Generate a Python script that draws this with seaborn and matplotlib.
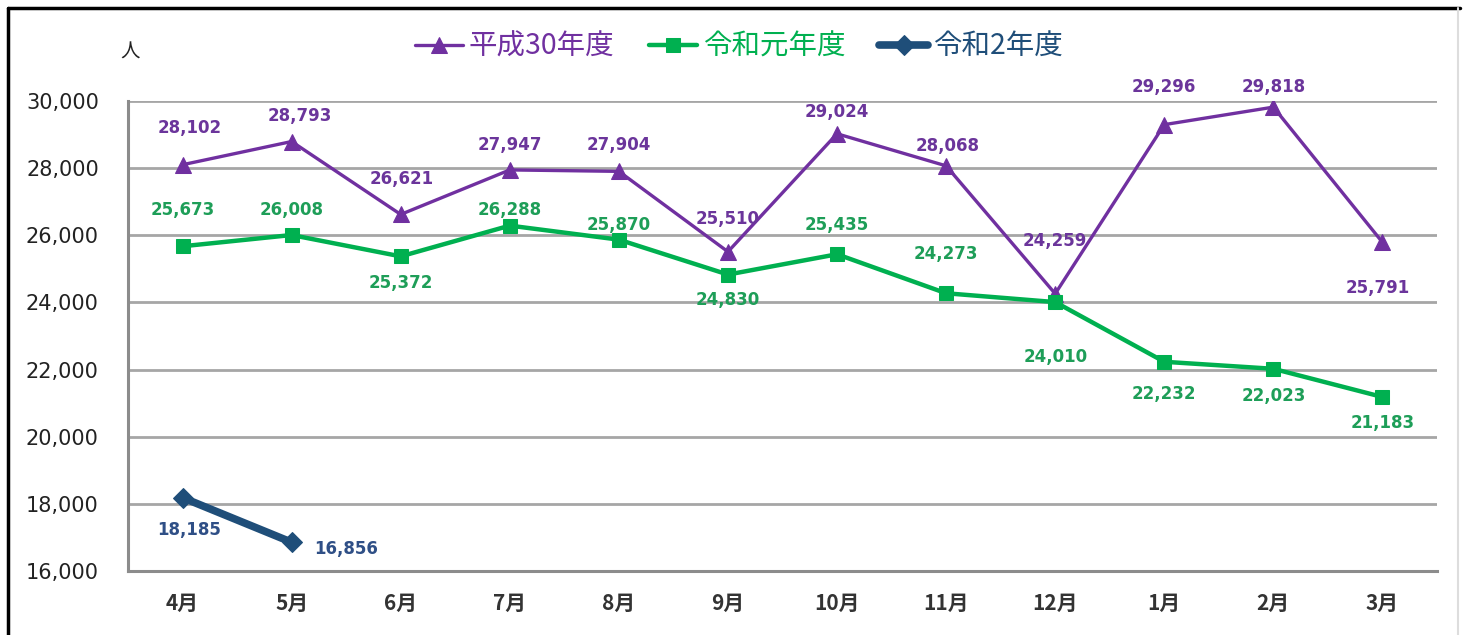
import numpy as np
import pandas as pd
import matplotlib.pyplot as plt
import seaborn as sns

# datos
months = ["4月", "5月", "6月", "7月", "8月", "9月", "10月", "11月", "12月", "1月", "2月", "3月"]
h30 = [28102, 28793, 26621, 27947, 27904, 25510, 29024, 28068, 24259, 29296, 29818, 25791]
r1 = [25673, 26008, 25372, 26288, 25870, 24830, 25435, 24273, 24010, 22232, 22023, 21183]
r2 = [18185, 16856]
names = ["平成30年度", "令和元年度", "令和2年度"]

# label offsets in pixels (dx, dy) relative to the marker, dy positive = up
off_h30 = [(7, 37), (8, 26), (1, 35), (0, 25), (0, 26), (0, 33), (0, 22), (2, 20), (0, 53), (0, 38), (0, 20), (-5, -46)]
off_r1 = [(0, 36), (0, 25), (0, -27), (0, 16), (0, 15), (0, -25), (0, 29), (0, 39), (0, -55), (0, -32), (0, -27), (0, -26)]
off_r2 = [(7, -32), (55, -7)]

sns.set_style("white")
plt.rcParams['font.family'] = ['DejaVu Sans', 'Noto Sans CJK JP']

fig = plt.figure(figsize=(14.69, 6.35), dpi=100)
ax = fig.add_axes([128 / 1469, 64 / 635, 1309 / 1469, 470 / 635])

x = np.arange(len(months))
series = [
    (h30, names[0], "#7030A0", "^", 12, 2.4, off_h30, "#6B359B", 2),
    (r1, names[1], "#00B050", "s", 10, 3.2, off_r1, "#1E9E58", 3),
    (r2, names[2], "#1F4E79", "D", 10, 5.5, off_r2, "#2F4F86", 4),
]
for vals, nm, col, mk, ms, lw, offs, lcol, z in series:
    df = pd.DataFrame({"x": x[:len(vals)], "y": vals})
    sns.lineplot(data=df, x="x", y="y", ax=ax, color=col, marker=mk, markersize=ms,
                 markeredgecolor=col, linewidth=lw, label=nm, zorder=z, sort=False)
    for xi, v, (dx, dy) in zip(df["x"], vals, offs):
        ax.annotate(f"{v:,}", (xi, v), xytext=(dx * 0.72, dy * 0.72), textcoords="offset points",
                    ha="center", va="center", fontsize=12, fontweight="bold", color=lcol, zorder=6)

ax.set_xlim(-0.5, 11.5)
ax.set_ylim(16000, 30000)
ax.set_yticks(np.arange(16000, 30001, 2000))
ax.set_yticklabels([f"{t:,}" for t in range(16000, 30001, 2000)], fontsize=15, color="#222222")
ax.set_xticks(x)
ax.set_xticklabels(months, fontsize=15, fontweight="bold", color="#333333",
                   family=['Noto Sans CJK JP', 'DejaVu Sans'])
ax.tick_params(axis="x", length=0, pad=16)
ax.tick_params(axis="y", length=0, pad=21)
ax.set_xlabel("")
ax.set_ylabel("")
ax.yaxis.grid(True, color="#A6A6A6", linewidth=2)
ax.set_axisbelow(True)
for s in ["top", "right"]:
    ax.spines[s].set_visible(False)
for s in ["left", "bottom"]:
    ax.spines[s].set_color("#8C8C8C")
    ax.spines[s].set_linewidth(2.2)

leg = ax.legend(loc="center", bbox_to_anchor=(739 / 1469, 1 - 47 / 635), bbox_transform=fig.transFigure,
                ncol=3, frameon=False, handlelength=1.7, handletextpad=0.2, columnspacing=1.2,
                labelcolor="linecolor", prop={'family': ['Noto Sans CJK JP', 'DejaVu Sans'], 'size': 20.5})

fig.text(130 / 1469, 1 - 52 / 635, "人", fontsize=14, ha="center", va="center", color="#222222",
         family=['Noto Sans CJK JP', 'DejaVu Sans'])

# marco exterior
fig.add_artist(plt.Line2D([8 / 1469, 8 / 1469], [0, 1 - 8 / 635], color="black", lw=2.5))
fig.add_artist(plt.Line2D([8 / 1469, 1460 / 1469], [1 - 8 / 635, 1 - 8 / 635], color="black", lw=2.5))
fig.add_artist(plt.Line2D([1458 / 1469, 1458 / 1469], [0, 1 - 8 / 635], color="#DDDDDD", lw=1.5))

fig.savefig("out.png", dpi=100)
